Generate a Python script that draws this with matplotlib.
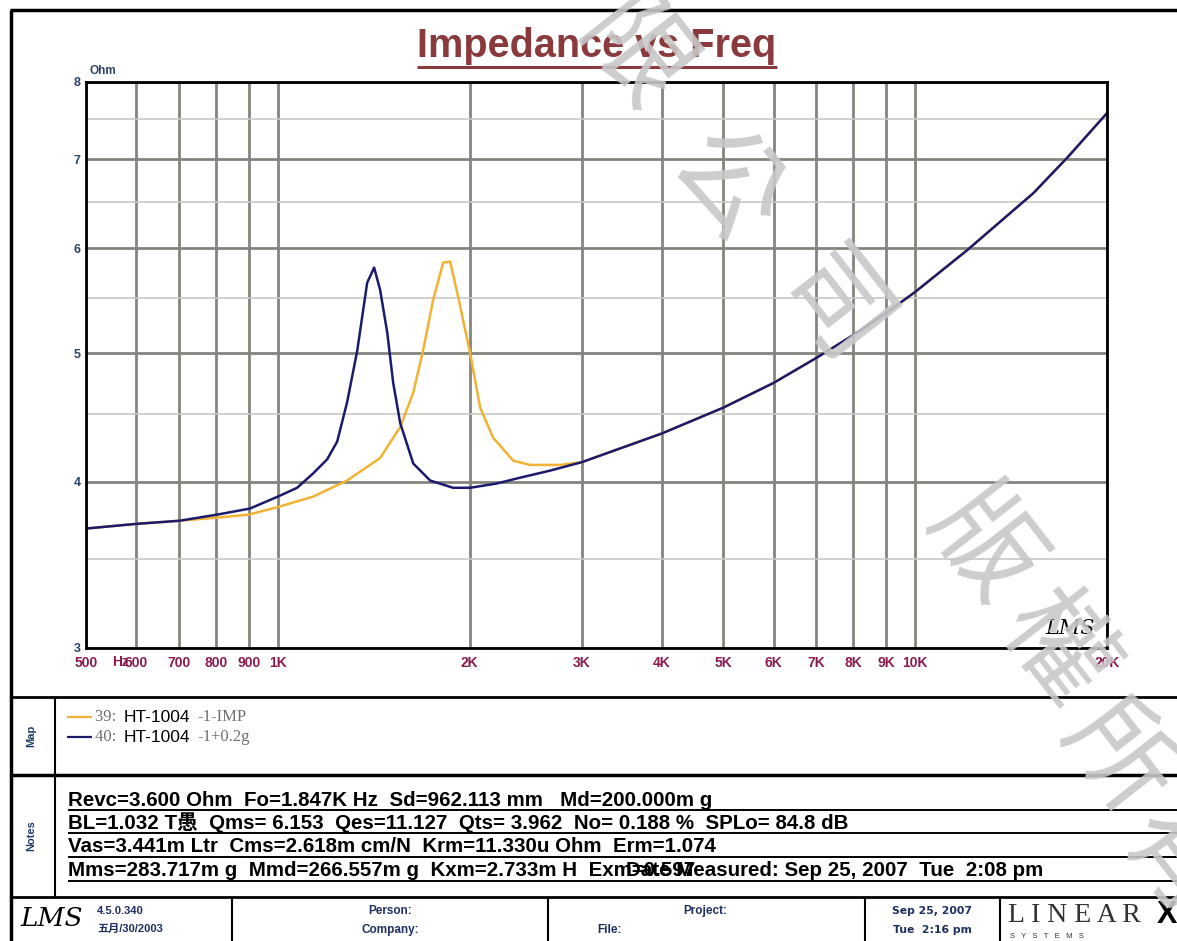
import matplotlib
matplotlib.use("Agg")
import matplotlib.pyplot as plt
from matplotlib.lines import Line2D
from matplotlib.ticker import FixedLocator, NullFormatter

# ---------------- data ----------------
freq_imp = [500, 600, 700, 800, 900, 1000, 1136, 1284, 1447, 1556, 1631, 1691, 1752,
            1817, 1864, 1933, 2003, 2077, 2176, 2341, 2489, 2773, 3000, 4000, 5000,
            6000, 7000, 8000, 9000, 10000, 12080, 15335, 17340, 20000]
z_imp = [3.69, 3.72, 3.74, 3.76, 3.78, 3.83, 3.90, 4.01, 4.17, 4.40, 4.67, 5.03, 5.48,
         5.85, 5.86, 5.42, 5.00, 4.55, 4.32, 4.15, 4.12, 4.12, 4.14, 4.35, 4.55,
         4.75, 4.96, 5.16, 5.36, 5.56, 5.98, 6.60, 7.02, 7.58]

freq_mass = [500, 600, 700, 803, 904, 1000, 1072, 1136, 1195, 1239, 1284, 1332, 1381,
             1416, 1447, 1485, 1517, 1556, 1631, 1734, 1884, 2003, 2208, 2400, 2676,
             3000, 4000, 5000, 6000, 7000, 8000, 9000, 10000, 12080, 15335, 17340, 20000]
z_mass = [3.69, 3.72, 3.74, 3.78, 3.82, 3.90, 3.96, 4.06, 4.16, 4.29, 4.59, 5.02, 5.65,
          5.80, 5.58, 5.18, 4.75, 4.43, 4.13, 4.01, 3.96, 3.96, 3.99, 4.03, 4.08,
          4.14, 4.35, 4.55, 4.75, 4.96, 5.16, 5.36, 5.56, 5.98, 6.60, 7.02, 7.58]

x_ticks = [500, 600, 700, 800, 900, 1000, 2000, 3000, 4000, 5000, 6000, 7000, 8000,
           9000, 10000, 20000]
x_tick_labels = ["500", "600", "700", "800", "900", "1K", "2K", "3K", "4K", "5K", "6K",
                 "7K", "8K", "9K", "10K", "20K"]
y_ticks = [3, 4, 5, 6, 7, 8]
y_minor = [3.5, 4.5, 5.5, 6.5, 7.5]

legend_names = ["39: ", "40: "]
legend_mid = ["HT-1004", "HT-1004"]
legend_tail = ["-1-IMP", "-1+0.2g"]

notes = [
    "Revc=3.600 Ohm  Fo=1.847K Hz  Sd=962.113 mm   Md=200.000m g",
    "BL=1.032 T\u611a  Qms= 6.153  Qes=11.127  Qts= 3.962  No= 0.188 %  SPLo= 84.8 dB",
    "Vas=3.441m Ltr  Cms=2.618m cm/N  Krm=11.330u Ohm  Erm=1.074",
    "Mms=283.717m g  Mmd=266.557m g  Kxm=2.733m H  Exm=0.597",
]
note_date = "Date Measured: Sep 25, 2007  Tue  2:08 pm"

# ---------------- figure ----------------
W, H = 1177, 941
fig = plt.figure(figsize=(W / 100, H / 100), dpi=100)
fig.patch.set_facecolor("white")

SANS = ["Liberation Sans", "DejaVu Sans"]
CJK = ["Liberation Sans", "Noto Sans CJK TC", "DejaVu Sans"]


def fx(x):
    return x / W


def fy(y):
    return 1 - y / H


def line(x0, y0, x1, y1, lw=1.5, color="black", z=5):
    fig.add_artist(Line2D([fx(x0), fx(x1)], [fy(y0), fy(y1)], lw=lw, color=color,
                          zorder=z, solid_capstyle="butt"))


# plot axes
ax = fig.add_axes([fx(86), fy(648), fx(1107) - fx(86), fy(82) - fy(648)])
ax.set_xscale("log")
ax.set_yscale("log")
ax.set_xlim(500, 20000)
ax.set_ylim(3, 8)

ax.plot(freq_imp, z_imp, color="#f2b233", lw=1.8, zorder=3)
ax.plot(freq_mass, z_mass, color="#1c1a6c", lw=1.8, zorder=4)

ax.xaxis.set_major_locator(FixedLocator(x_ticks))
ax.set_xticklabels(x_tick_labels)
ax.xaxis.set_minor_formatter(NullFormatter())
ax.xaxis.set_minor_locator(FixedLocator([]))
ax.yaxis.set_major_locator(FixedLocator(y_ticks))
ax.set_yticklabels([str(v) for v in y_ticks])
ax.yaxis.set_minor_locator(FixedLocator(y_minor))
ax.yaxis.set_minor_formatter(NullFormatter())

ax.grid(True, which="major", axis="x", color="#858580", lw=2.0, zorder=1)
ax.grid(True, which="major", axis="y", color="#858580", lw=2.0, zorder=1)
ax.grid(True, which="minor", axis="y", color="#c8c8c4", lw=1.2, zorder=1)
ax.tick_params(axis="both", which="both", length=0)
ax.tick_params(axis="x", pad=6)
ax.tick_params(axis="y", pad=4)
for lab in ax.get_xticklabels():
    lab.set_fontfamily(SANS)
    lab.set_fontweight("bold")
    lab.set_fontsize(10)
    lab.set_color("#8a1a50")
for lab in ax.get_yticklabels():
    lab.set_fontfamily(SANS)
    lab.set_fontweight("bold")
    lab.set_fontsize(9)
    lab.set_color("#2c4362")
for s in ax.spines.values():
    s.set_linewidth(2.0)
    s.set_color("black")
    s.set_zorder(6)

fig.text(fx(90), fy(71), "Ohm", fontsize=8.5, fontweight="bold", color="#2c4362",
         family=SANS, va="center", ha="left")
fig.text(fx(112), fy(662), "Hz", fontsize=10, fontweight="bold", color="#8a1a50",
         family=SANS, va="center", ha="left")
fig.text(fx(1070), fy(628), "LMS", fontsize=15, style="italic", family=["DejaVu Serif"],
         color="black", va="center", ha="center")

# title
fig.text(fx(597), fy(46), "Impedance vs Freq", fontsize=28.5, fontweight="bold",
         color="#8a3a3c", family=SANS, ha="center", va="center")
line(417, 67, 777, 67, lw=2.2, color="#8a3a3c")

# frame
line(10, 10, W, 10, lw=2.5)
line(11, 10, 11, H, lw=2.5)
line(10, 697, W, 697, lw=2.0)
line(10, 775, W, 775, lw=2.5)
line(10, 897, W, 897, lw=2.0)
line(55, 697, 55, 897, lw=1.5)
for xd in [232, 548, 865, 1000]:
    line(xd, 897, xd, H, lw=1.5)

# map section
fig.text(fx(31), fy(736), "Map", rotation=90, fontsize=8, fontweight="bold",
         color="#1f3a6a", family=SANS, ha="center", va="center")
leg_y = [717, 737]
leg_col = ["#f2b233", "#1c1a6c"]
for i in range(2):
    line(67, leg_y[i], 92, leg_y[i], lw=1.6, color=leg_col[i])
    fig.text(fx(95), fy(leg_y[i]), legend_names[i], fontsize=12,
             family=["Liberation Serif"], color="#707070", va="center", ha="left")
    fig.text(fx(124), fy(leg_y[i]), legend_mid[i], fontsize=12.5,
             family=SANS, color="black", va="center", ha="left")
    fig.text(fx(197), fy(leg_y[i]), legend_tail[i], fontsize=12,
             family=["Liberation Serif"], color="#707070", va="center", ha="left")

# notes section
fig.text(fx(31), fy(836), "Notes", rotation=90, fontsize=8, fontweight="bold",
         color="#1f3a6a", family=SANS, ha="center", va="center")
note_y = [800, 823, 847, 871]
for i, txt in enumerate(notes):
    fig.text(fx(68), fy(note_y[i]), txt, fontsize=14.8, fontweight="bold", family=CJK,
             color="black", ha="left", va="center")
    line(68, note_y[i] + 10, W, note_y[i] + 10, lw=1.4)
fig.text(fx(626), fy(note_y[3]), note_date, fontsize=14.8, fontweight="bold", family=CJK,
         color="black", ha="left", va="center")

# footer
FT = "#1f2f5f"
fig.text(fx(52), fy(919), "LMS", fontsize=19, style="italic", family=["DejaVu Serif"],
         color="black", ha="center", va="center")
fig.text(fx(97), fy(911), "4.5.0.340", fontsize=8, fontweight="bold", family=CJK,
         color=FT, ha="left", va="center")
fig.text(fx(97), fy(929), "\u4e94\u6708/30/2003", fontsize=8, fontweight="bold",
         family=CJK, color=FT, ha="left", va="center")
fig.text(fx(390), fy(911), "Person:", fontsize=8.5, fontweight="bold", family=CJK,
         color=FT, ha="center", va="center")
fig.text(fx(390), fy(930), "Company:", fontsize=8.5, fontweight="bold", family=CJK,
         color=FT, ha="center", va="center")
fig.text(fx(705), fy(911), "Project:", fontsize=8.5, fontweight="bold", family=CJK,
         color=FT, ha="center", va="center")
fig.text(fx(597), fy(930), "File:", fontsize=8.5, fontweight="bold", family=CJK,
         color=FT, ha="left", va="center")
fig.text(fx(932), fy(911), "Sep 25, 2007", fontsize=7.8, fontweight="bold",
         family=["DejaVu Sans"], color=FT, ha="center", va="center")
fig.text(fx(932), fy(930), "Tue  2:16 pm", fontsize=7.8, fontweight="bold",
         family=["DejaVu Sans"], color=FT, ha="center", va="center")
fig.text(fx(1008), fy(915), "L I N E A R", fontsize=20, family=["Liberation Serif"],
         color="#333333", ha="left", va="center")
fig.text(fx(1177), fy(915), "X", fontsize=22, fontweight="bold", family=SANS,
         color="black", ha="right", va="center")
fig.text(fx(1010), fy(936), "S   Y   S   T   E   M   S", fontsize=5.5, family=SANS,
         color="#333333", ha="left", va="center")

# watermark
wm_chars = ["\u9650", "\u516c", "\u53f8", "\u7248", "\u6b0a", "\u6240", "\u6709"]
wm_pos = [(632, 58), (725, 188), (830, 312), (982, 548), (1055, 650), (1117, 760),
          (1175, 862)]
for ch, (x, y) in zip(wm_chars, wm_pos):
    fig.text(fx(x), fy(y), ch, fontsize=78, family=["Noto Sans CJK TC"],
             fontweight="medium", color="#c8c8c8", alpha=0.9, rotation=-52,
             ha="center", va="center", zorder=100)

fig.savefig("out.png", dpi=100, facecolor="white")
